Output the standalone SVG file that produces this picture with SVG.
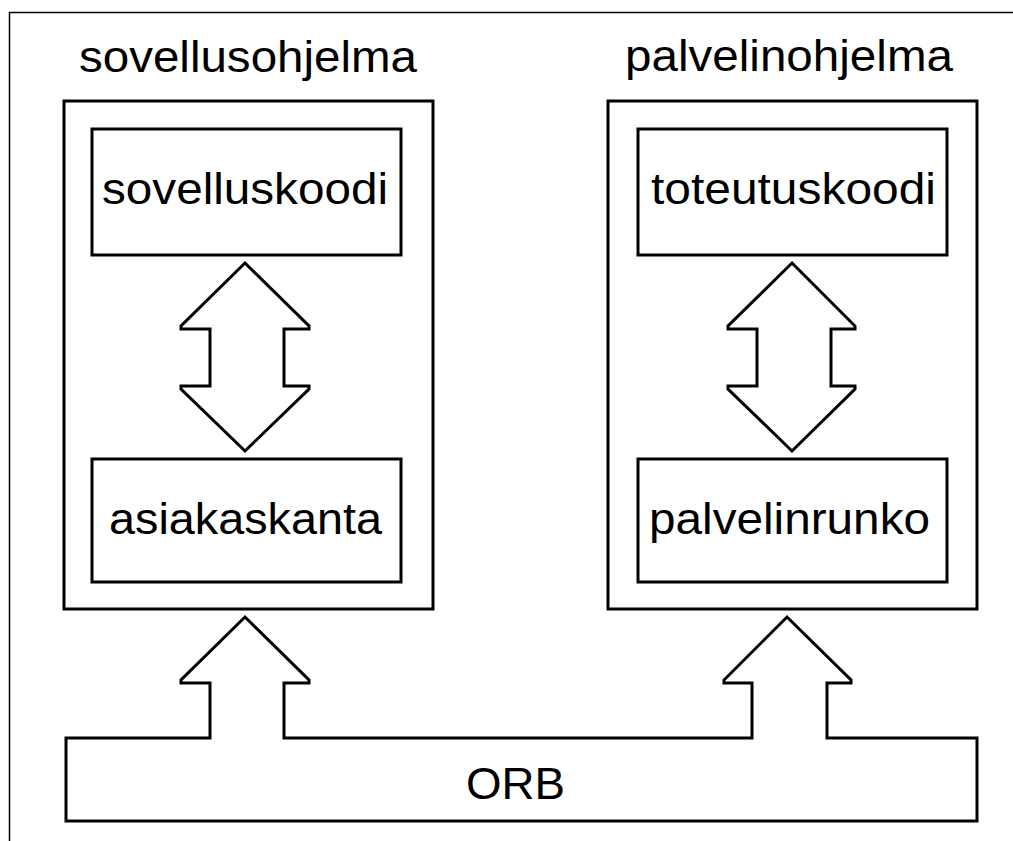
<svg xmlns="http://www.w3.org/2000/svg" width="1013" height="841" viewBox="0 0 1013 841">
<style>
.box{fill:#fff;stroke:#000;stroke-width:3}
.frame{fill:none;stroke:#000;stroke-width:1.5}
.arrow{fill:#fff;stroke:#000;stroke-width:3;stroke-linejoin:miter}
.t{font-family:"Liberation Sans",Arial,sans-serif;font-size:44px;fill:#000}
</style>
<rect x="0" y="0" width="1013" height="841" fill="#fff"/>
<rect class="frame" x="9.5" y="12.5" width="1100" height="900"/>
<g id="sovellusohjelma">
<text class="t" x="79" y="72" textLength="338" lengthAdjust="spacingAndGlyphs">sovellusohjelma</text>
<rect class="box" x="64" y="101" width="369" height="508"/>
</g>
<g id="palvelinohjelma">
<text class="t" x="625" y="71" textLength="328" lengthAdjust="spacingAndGlyphs">palvelinohjelma</text>
<rect class="box" x="608" y="101" width="369" height="508"/>
</g>
<g id="sovelluskoodi">
<rect class="box" x="92" y="129" width="309" height="126"/>
<text class="t" x="102" y="204" textLength="286" lengthAdjust="spacingAndGlyphs">sovelluskoodi</text>
</g>
<g id="asiakaskanta">
<rect class="box" x="92" y="459" width="309" height="123"/>
<text class="t" x="109" y="534" textLength="273" lengthAdjust="spacingAndGlyphs">asiakaskanta</text>
</g>
<g id="toteutuskoodi">
<rect class="box" x="638" y="129" width="309" height="126"/>
<text class="t" x="651" y="204" textLength="285" lengthAdjust="spacingAndGlyphs">toteutuskoodi</text>
</g>
<g id="palvelinrunko">
<rect class="box" x="638" y="459" width="309" height="123"/>
<text class="t" x="649" y="534" textLength="281" lengthAdjust="spacingAndGlyphs">palvelinrunko</text>
</g>
<g id="connectors">
<polygon class="arrow" points="245,263 309,326 309,329 284,329 284,386 309,386 309,389 245,451 181,389 181,386 210,386 210,329 181,329 181,326"/>
<polygon class="arrow" points="792,263 855,326 855,329 831,329 831,386 855,386 855,389 792,451 728,389 728,386 757,386 757,329 728,329 728,326"/>
</g>
<g id="ORB">
<polygon class="arrow" points="66,738 210,738 210,683 181,683 181,680 245,617 309,680 309,683 284,683 284,738 752,738 752,683 724,683 724,680 787,617 851,680 851,683 827,683 827,738 977,738 977,821 66,821"/>
<text class="t" x="466" y="799" textLength="99" lengthAdjust="spacingAndGlyphs">ORB</text>
</g>
</svg>
